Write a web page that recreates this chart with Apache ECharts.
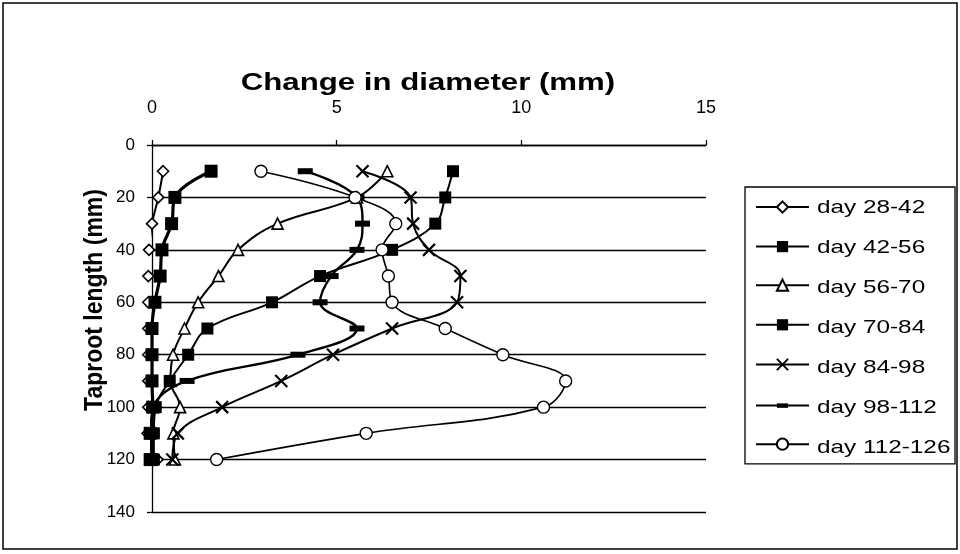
<!DOCTYPE html>
<html>
<head>
<meta charset="utf-8">
<script src="https://cdn.jsdelivr.net/npm/echarts@6/dist/echarts.min.js"></script>
<style>html,body{margin:0;padding:0;background:#fff}#c{width:960px;height:554px}</style>
</head>
<body>
<div id="c"></div>
<script>
// Taproot length levels (mm), y values of every point
var depths = [10, 20, 30, 40, 50, 60, 70, 80, 90, 100, 110, 120];
// Change in diameter (mm) per series
var day28_42  = [0.3, 0.17, 0.0, -0.08, -0.1, -0.1, -0.1, -0.1, -0.1, -0.1, -0.12, 0.15];
var day42_56  = [1.6, 0.62, 0.53, 0.27, 0.22, 0.08, 0.0, 0.0, 0.0, 0.02, -0.05, -0.05];
var day56_70  = [6.37, 5.55, 3.4, 2.33, 1.8, 1.25, 0.88, 0.57, 0.5, 0.76, 0.58, 0.62];
var day70_84  = [8.15, 7.94, 7.67, 6.5, 4.55, 3.25, 1.5, 0.98, 0.48, 0.1, 0.05, 0.05];
var day84_98  = [5.7, 7.0, 7.07, 7.5, 8.35, 8.26, 6.5, 4.9, 3.5, 1.9, 0.7, 0.55];
var day98_112 = [4.15, 5.55, 5.7, 5.55, 4.85, 4.55, 5.55, 3.95, 0.95, 0.05, 0.0, 0.0];
var day112_126= [2.95, 5.5, 6.6, 6.23, 6.4, 6.5, 7.94, 9.5, 11.2, 10.6, 5.8, 1.75];
var seriesNames = ['day 28-42', 'day 42-56', 'day 56-70', 'day 70-84', 'day 84-98', 'day 98-112', 'day 112-126'];
var xTicks = [0, 5, 10, 15];
var yTicks = [0, 20, 40, 60, 80, 100, 120, 140];
var xTitle = 'Change in diameter (mm)';
var yTitle = 'Taproot length (mm)';

function pairs(vals) { return vals.map(function (v, i) { return [v, depths[i]]; }); }

var FONT = 'Arial, "Liberation Sans", Helvetica, sans-serif';
var styles = [
  { symbol: 'diamond', symbolSize: 11, fill: '#fff', bw: 1.6, lw: 2 },
  { symbol: 'rect', symbolSize: 13, fill: '#000', bw: 0, lw: 3.2 },
  { symbol: 'triangle', symbolSize: 11, fill: '#fff', bw: 1.6, lw: 2 },
  { symbol: 'rect', symbolSize: 12, fill: '#000', bw: 0, lw: 2 },
  { symbol: 'path://M0,0L10,10M10,0L0,10', symbolSize: 12, fill: 'none', bw: 2.2, lw: 2 },
  { symbol: 'path://M0,0L0,0M0,4.5h15v6h-15zM15,15L15,15', symbolSize: 15, fill: '#000', bw: 0, lw: 2.4 },
  { symbol: 'circle', symbolSize: 12, fill: '#fff', bw: 1.4, lw: 1.6 }
];
var allData = [day28_42, day42_56, day56_70, day70_84, day84_98, day98_112, day112_126];

var series = allData.map(function (d, i) {
  var s = styles[i];
  return {
    name: seriesNames[i],
    type: 'line',
    data: pairs(d),
    smooth: 0.4,
    clip: false,
    symbol: s.symbol,
    symbolSize: s.symbolSize,
    showAllSymbol: true,
    lineStyle: { color: '#000', width: s.lw },
    itemStyle: { color: s.fill, borderColor: '#000', borderWidth: s.bw },
    emphasis: { disabled: true },
    animation: false
  };
});

// legend layout
var LEG_LEFT = 745, LEG_TOP = 187, LEG_PAD_T = 13, ITEM_H = 14, ITEM_GAP = 26;
var legendTexts = seriesNames.map(function (n, i) {
  return {
    type: 'text', x: 817, y: LEG_TOP + LEG_PAD_T + ITEM_H / 2 + i * (ITEM_H + ITEM_GAP) + 1,
    scaleX: 1.28,
    style: { text: n, font: '19px ' + FONT, fill: '#000', textAlign: 'left', textVerticalAlign: 'middle' },
    z: 10
  };
});

var chart = echarts.init(document.getElementById('c'), null, { renderer: 'canvas' });
chart.setOption({
  backgroundColor: '#fff',
  animation: false,
  textStyle: { fontFamily: FONT },
  grid: { left: 152, top: 145, width: 554, height: 367, containLabel: false },
  xAxis: {
    type: 'value', position: 'top', min: xTicks[0], max: xTicks[xTicks.length - 1], interval: 5,
    axisLine: { show: true, lineStyle: { color: '#000', width: 1.3 } },
    axisTick: { show: true, inside: false, length: 5, lineStyle: { color: '#000', width: 1.3 } },
    axisLabel: { color: '#000', fontSize: 18, fontFamily: FONT, margin: 28 },
    splitLine: { show: false }
  },
  yAxis: {
    type: 'value', inverse: true, min: yTicks[0], max: yTicks[yTicks.length - 1], interval: 20,
    axisLine: { show: true, lineStyle: { color: '#000', width: 1.3 } },
    axisTick: { show: true, inside: false, length: 5, lineStyle: { color: '#000', width: 1.3 } },
    axisLabel: { color: '#000', fontSize: 17, fontFamily: FONT, margin: 17 },
    splitLine: { show: true, lineStyle: { color: '#000', width: 1.3 } }
  },
  legend: {
    orient: 'vertical', left: LEG_LEFT, top: LEG_TOP,
    data: seriesNames,
    formatter: function () { return ''; },
    backgroundColor: '#fff',
    borderColor: '#000', borderWidth: 1.3,
    padding: [LEG_PAD_T, 145, 13, 10],
    itemWidth: 53, itemHeight: ITEM_H, itemGap: ITEM_GAP,
    textStyle: { color: '#000', fontSize: 12 },
    selectedMode: false
  },
  graphic: [
    { type: 'rect', shape: { x: 3, y: 3, width: 954, height: 546 }, style: { fill: 'none', stroke: '#000', lineWidth: 1.5 }, z: -1 },
    { type: 'text', x: 428, y: 83, scaleX: 1.3, style: { text: xTitle, font: 'bold 24px ' + FONT, fill: '#000', textAlign: 'center', textVerticalAlign: 'middle' } },
    { type: 'text', x: 95, y: 300, rotation: Math.PI / 2, scaleY: 1.15, style: { text: yTitle, font: 'bold 23px ' + FONT, fill: '#000', textAlign: 'center', textVerticalAlign: 'middle' } }
  ].concat(legendTexts),
  series: series
});
</script>
</body>
</html>
